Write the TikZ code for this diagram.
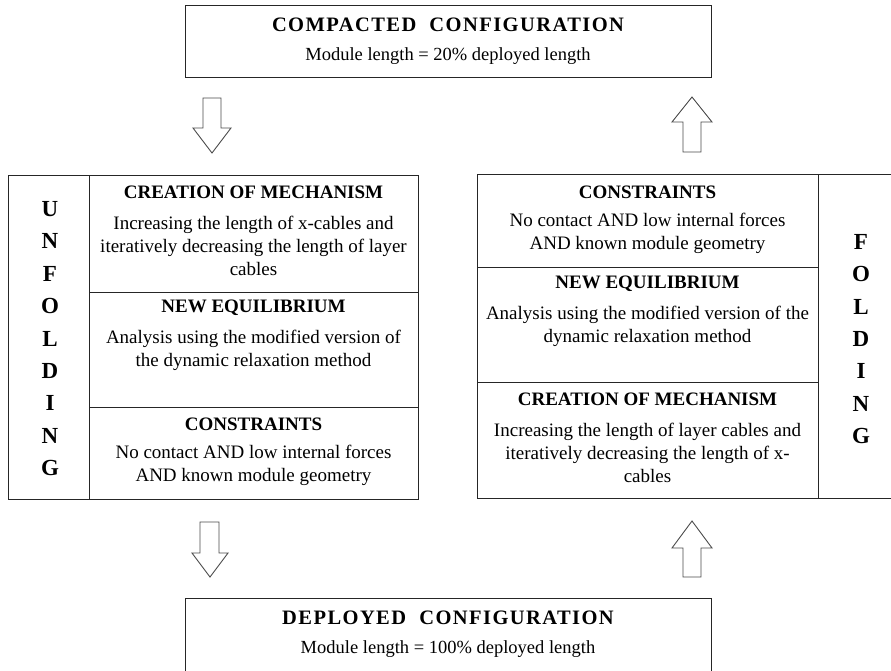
\documentclass[tikz,border=0pt]{standalone}
\usepackage{fontspec}
\setmainfont{Liberation Serif}
\begin{document}
\begin{tikzpicture}[x=1pt,y=-1pt,
  box/.style={draw=black!85, line width=1pt, inner sep=0, outer sep=0},
  ttl/.style={font=\fontsize{19}{22}\selectfont\bfseries, inner sep=0},
  body/.style={font=\fontsize{19}{23}\selectfont, align=center, inner sep=0},
  big/.style={font=\fontsize{20.5}{24}\selectfont\bfseries\addfontfeature{LetterSpace=7}, inner sep=0},
  sub/.style={font=\fontsize{18.5}{22}\selectfont, inner sep=0},
  letter/.style={font=\fontsize{23}{24}\selectfont\bfseries, inner sep=0},
  blockarrow/.style={draw=black!70, line width=0.9pt, fill=white, line join=miter}]
\clip (0,0) rectangle (891,671);
\fill[white] (0,0) rectangle (891,671);
% top box
\node[box, minimum width=526, minimum height=72] (top) at (448,42) {};
\node[big] (toptitle) at (448,25) {COMPACTED\ \ CONFIGURATION};
\node[sub] (topsub) at (448,56) {Module length = 20\% deployed length};
% bottom box
\node[box, minimum width=526, minimum height=100] (bot) at (448,648) {};
\node[big] (bottitle) at (448,618) {DEPLOYED\ \ CONFIGURATION};
\node[sub] (botsub) at (448,649) {Module length = 100\% deployed length};
% left column
\node[box, minimum width=81, minimum height=323] (unf) at (48.5,337.5) {};
\node[box, minimum width=329, minimum height=116] (l1) at (253.5,234) {};
\node[box, minimum width=329, minimum height=115] (l2) at (253.5,349.5) {};
\node[box, minimum width=329, minimum height=92] (l3) at (253.5,453) {};
\node[ttl] (l1t) at (253.5,192) {CREATION OF MECHANISM};
\node[body] (l1b) at (253.5,246) {Increasing the length of x-cables and\\iteratively decreasing the length of layer\\cables};
\node[ttl] (l2t) at (253.5,308) {NEW EQUILIBRIUM};
\node[body] (l2b) at (253.5,350.5) {Analysis using the modified version of\\the dynamic relaxation method};
\node[ttl] (l3t) at (253.5,424) {CONSTRAINTS};
\node[body] (l3b) at (253.5,465.5) {No contact AND low internal forces\\AND known module geometry};
\foreach \ch [count=\i] in {U,N,F,O,L,D,I,N,G}
  \node[letter] (unf\i) at (50,{209+(\i-1)*32.4}) {\ch};
% right column
\node[box, minimum width=341, minimum height=92] (r1) at (647.5,221) {};
\node[box, minimum width=341, minimum height=115] (r2) at (647.5,324.5) {};
\node[box, minimum width=341, minimum height=116] (r3) at (647.5,440) {};
\node[box, minimum width=90, minimum height=323] (fold) at (863,336.5) {};
\node[ttl] (r1t) at (647.5,192) {CONSTRAINTS};
\node[body] (r1b) at (647.5,233) {No contact AND low internal forces\\AND known module geometry};
\node[ttl] (r2t) at (647.5,284) {NEW EQUILIBRIUM};
\node[body] (r2b) at (647.5,326) {Analysis using the modified version of the\\dynamic relaxation method};
\node[ttl] (r3t) at (647.5,399) {CREATION OF MECHANISM};
\node[body] (r3b) at (647.5,453) {Increasing the length of layer cables and\\iteratively decreasing the length of x-\\cables};
\foreach \ch [count=\i] in {F,O,L,D,I,N,G}
  \node[letter] (fold\i) at (861,{242+(\i-1)*32.3}) {\ch};
% block arrows
\draw[blockarrow] (203,98)--(221,98)--(221,128)--(231,128)--(212,153)--(193,128)--(203,128)--cycle;
\draw[blockarrow] (692,97)--(712,122)--(701,122)--(701,152)--(683,152)--(683,122)--(672,122)--cycle;
\draw[blockarrow] (200,522)--(219,522)--(219,553)--(228,553)--(210,577)--(192,553)--(200,553)--cycle;
\draw[blockarrow] (692,521)--(712,548)--(701,548)--(701,577)--(683,577)--(683,548)--(672,548)--cycle;
\end{tikzpicture}
\end{document}
